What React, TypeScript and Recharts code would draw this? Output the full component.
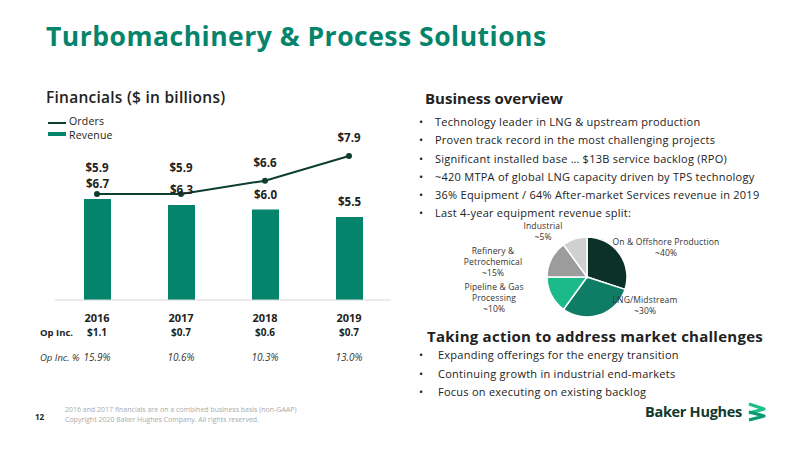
import React from 'react';
import { ComposedChart, Bar, Line, XAxis, YAxis, LabelList, PieChart, Pie, Cell } from 'recharts';

// financials ($B)
const years = ['2016', '2017', '2018', '2019'];
const revenue = [6.7, 6.3, 6.0, 5.5];
const orders = [5.9, 5.9, 6.6, 7.9];
const opInc = ['$1.1', '$0.7', '$0.6', '$0.7'];
const opIncPct = ['15.9%', '10.6%', '10.3%', '13.0%'];

// equipment revenue split (slice sizes as drawn, labels as printed)
const segments = ['On & Offshore Production', 'LNG/Midstream', 'Pipeline & Gas\nProcessing', 'Refinery &\nPetrochemical', 'Industrial'];
const segmentShare = [30, 30, 15, 15, 10];
const segmentLabels = ['~40%', '~30%', '~10%', '~15%', '~5%'];

const overviewBullets = [
  'Technology leader in LNG & upstream production',
  'Proven track record in the most challenging projects',
  'Significant installed base … $13B service backlog (RPO)',
  '~420 MTPA of global LNG capacity driven by TPS technology',
  '36% Equipment / 64% After-market Services revenue in 2019',
  'Last 4-year equipment revenue split:',
];
const actionBullets = [
  'Expanding offerings for the energy transition',
  'Continuing growth in industrial end-markets',
  'Focus on executing on existing backlog',
];

const TEAL = '#05846c';
const DARK = '#0d3c30';
const FONT = '"Open Sans", sans-serif';

const chartData = years.map((year, i) => ({ year, revenue: revenue[i], orders: orders[i] }));
const pieData = segments.map((name, i) => ({ name, value: segmentShare[i] }));
const pieColors = ['#0b3128', '#0f7d66', '#1cba8b', '#9c9c9c', '#d0d0d0'];
// where each pie label sits (center x, first baseline)
const pieLabelPos = [
  { x: 666, y: 246 },
  { x: 645, y: 304 },
  { x: 494, y: 291 },
  { x: 493, y: 255 },
  { x: 543, y: 230 },
];

// text placed by its baseline
const T = ({ x, y, size, weight = 400, color = '#222', center = false, italic = false, children, spacing = 0 }: any) => (
  <div
    style={{
      position: 'absolute',
      left: x,
      top: y - 0.888 * size,
      fontSize: size,
      lineHeight: `${size}px`,
      fontWeight: weight,
      color,
      fontStyle: italic ? 'italic' : 'normal',
      whiteSpace: 'nowrap',
      letterSpacing: spacing,
      transform: center ? 'translateX(-50%)' : undefined,
    }}
  >
    {children}
  </div>
);

const YearTick = ({ x, y, payload }: any) => {
  const i = years.indexOf(payload.value);
  return (
    <g fontFamily={FONT}>
      <text x={x} y={y + 14} textAnchor="middle" fontSize={11} fontWeight={700} fill="#222">{payload.value}</text>
      <text x={x} y={y + 28} textAnchor="middle" fontSize={10} fontWeight={700} fill="#222">{opInc[i]}</text>
      <text x={x} y={y + 53} textAnchor="middle" fontSize={10} fontStyle="italic" fill="#333">{opIncPct[i]}</text>
    </g>
  );
};

const OrderLabel = ({ x, y, value, index }: any) => {
  // lift the orders label when it would sit on the revenue label
  const lift = orders[index] < revenue[index] ? 22 : 14;
  return (
    <text x={x} y={y - lift} textAnchor="middle" fontSize={11.5} fontWeight={700} fill="#222" fontFamily={FONT}>
      ${Number(value).toFixed(1)}
    </text>
  );
};

export default function App() {
  return (
    <div style={{ position: 'absolute', left: 0, top: 0, width: 800, height: 450, background: '#fff', fontFamily: FONT, overflow: 'hidden' }}>
      <T x={46} y={47} size={26.5} weight={700} color={TEAL} spacing={0.5}>Turbomachinery &amp; Process Solutions</T>

      <T x={46} y={104} size={15.5} weight={600} color="#222" spacing={0.25}>Financials ($ in billions)</T>

      {/* legend */}
      <div style={{ position: 'absolute', left: 48, top: 122, width: 18, height: 2, background: DARK }} />
      <div style={{ position: 'absolute', left: 48, top: 132, width: 18, height: 4, background: TEAL }} />
      <T x={69} y={125.5} size={10.5} color="#222" spacing={0.2}>Orders</T>
      <T x={69} y={139.5} size={10.5} color="#222" spacing={0.2}>Revenue</T>

      <div style={{ position: 'absolute', left: 0, top: 0 }}>
        <ComposedChart width={400} height={370} data={chartData} margin={{ top: 110, right: 9, left: 55, bottom: 40 }}>
          <XAxis
            dataKey="year"
            height={30}
            tickLine={false}
            axisLine={{ stroke: '#d9d9d9', strokeWidth: 1 }}
            tick={<YearTick />}
            interval={0}
          />
          <YAxis yAxisId="rev" hide domain={[0, 12.6]} />
          <YAxis yAxisId="ord" hide domain={[0.32, 10.32]} />
          <Bar yAxisId="rev" dataKey="revenue" fill={TEAL} barSize={27} isAnimationActive={false}>
            <LabelList
              dataKey="revenue"
              position="top"
              offset={11}
              formatter={(v: any) => `$${Number(v).toFixed(1)}`}
              style={{ fontSize: 11.5, fontWeight: 700, fill: '#222', fontFamily: FONT }}
            />
          </Bar>
          <Line
            yAxisId="ord"
            dataKey="orders"
            type="linear"
            stroke={DARK}
            strokeWidth={2}
            dot={{ r: 3, fill: DARK, stroke: DARK, strokeWidth: 0 }}
            isAnimationActive={false}
          >
            <LabelList dataKey="orders" content={<OrderLabel />} />
          </Line>
        </ComposedChart>
      </div>

      <T x={40} y={336} size={9.5} weight={700} color="#222">Op Inc.</T>
      <T x={40} y={361} size={9.5} italic color="#333">Op Inc. %</T>

      {/* right panel */}
      <T x={425} y={104} size={15} weight={700} color="#222">Business overview</T>
      {overviewBullets.map((b, i) => (
        <React.Fragment key={b}>
          <T x={419} y={126 + i * 18.2} size={11} color="#222">•</T>
          <T x={435} y={126 + i * 18.2} size={11} color="#222" spacing={0.25}>{b}</T>
        </React.Fragment>
      ))}

      <div style={{ position: 'absolute', left: 532, top: 222 }}>
        <PieChart width={100} height={100}>
          <Pie
            data={pieData}
            dataKey="value"
            cx={50}
            cy={50}
            outerRadius={40}
            startAngle={90}
            endAngle={-270}
            stroke="#fff"
            strokeWidth={1.5}
            isAnimationActive={false}
          >
            {pieData.map((d, i) => (
              <Cell key={d.name} fill={pieColors[i]} />
            ))}
          </Pie>
        </PieChart>
      </div>
      {segments.map((name, i) => {
        const lines = [...name.split('\n'), segmentLabels[i]];
        return lines.map((ln, j) => (
          <T key={name + j} x={pieLabelPos[i].x} y={pieLabelPos[i].y + j * 10.6} size={8.5} color="#333" center spacing={0.15}>
            {ln}
          </T>
        ));
      })}

      <T x={427} y={342} size={15} weight={700} color="#222" spacing={0.25}>Taking action to address market challenges</T>
      {actionBullets.map((b, i) => (
        <React.Fragment key={b}>
          <T x={419} y={359 + i * 18.3} size={11} color="#222">•</T>
          <T x={438} y={359 + i * 18.3} size={11} color="#222" spacing={0.25}>{b}</T>
        </React.Fragment>
      ))}

      {/* logo */}
      <T x={645} y={418} size={14.5} weight={700} color="#10382b" spacing={-0.3}>Baker Hughes</T>
      <svg style={{ position: 'absolute', left: 746, top: 402 }} width={22} height={20} viewBox="0 0 22 20">
        <path d="M3 2 L18 7 L3 11" fill="none" stroke="#1cbf8c" strokeWidth={3.2} strokeLinejoin="round" />
        <path d="M3 10 L18 14 L3 18" fill="none" stroke="#0a9a73" strokeWidth={3.2} strokeLinejoin="round" />
      </svg>

      {/* footer */}
      <T x={35} y={420} size={8} weight={700} color="#222">12</T>
      <T x={65} y={412} size={7} color="#aaa">2016 and 2017 financials are on a combined business basis (non-GAAP)</T>
      <T x={65} y={422} size={7} color="#aaa">Copyright 2020 Baker Hughes Company. All rights reserved.</T>
    </div>
  );
}
